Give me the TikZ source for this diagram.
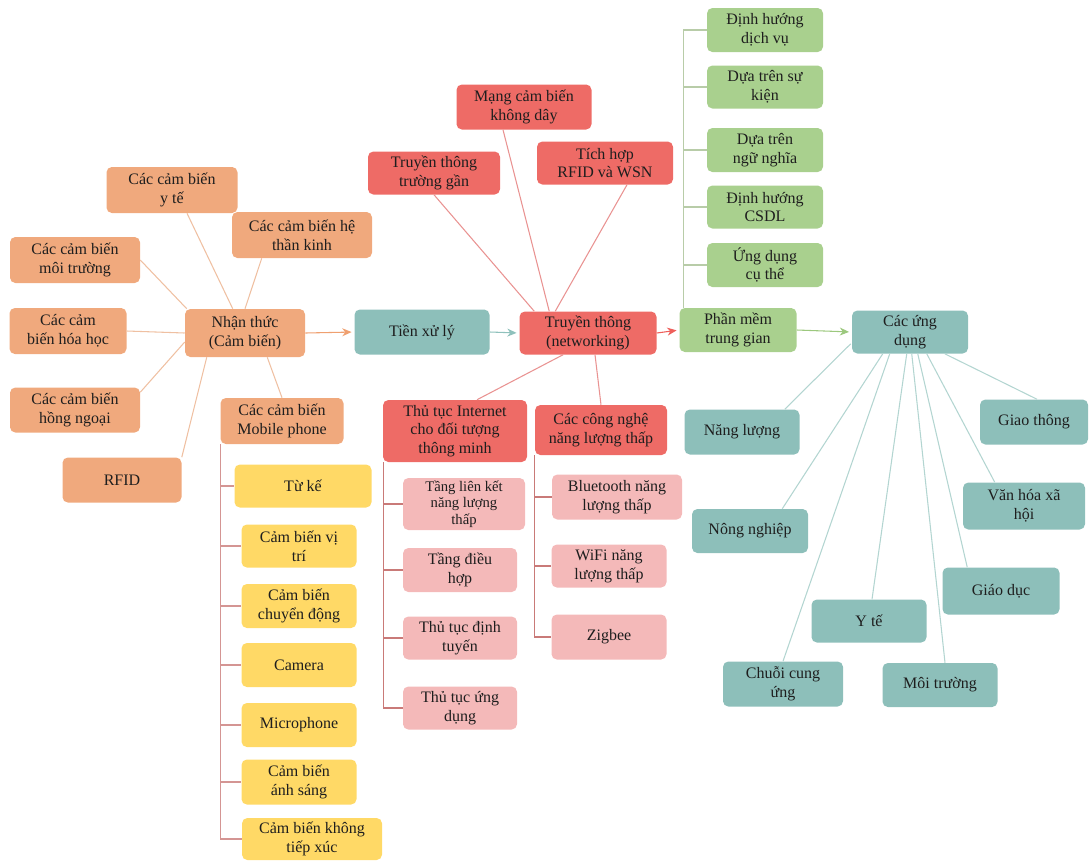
\documentclass[tikz,border=0pt]{standalone}
\usepackage{fontspec}
\setmainfont{Liberation Serif}
\usetikzlibrary{calc,arrows.meta}

\definecolor{orangefill}{HTML}{F0A97D}
\definecolor{yellowfill}{HTML}{FFD966}
\definecolor{redfill}{HTML}{EE6B66}
\definecolor{pinkfill}{HTML}{F4B9B9}
\definecolor{greenfill}{HTML}{A9D08E}
\definecolor{tealfill}{HTML}{8DBFBA}
\definecolor{orangeline}{HTML}{EFC0A2}
\definecolor{redline}{HTML}{E99392}
\definecolor{treered}{HTML}{C97A78}
\definecolor{tealline}{HTML}{B3D5D1}
\definecolor{greenline}{HTML}{B8CCA8}
\definecolor{orangearrow}{HTML}{EFA070}
\definecolor{tealarrow}{HTML}{8FC1BC}
\definecolor{redarrow}{HTML}{EE5F5B}
\definecolor{greenarrow}{HTML}{9CC87E}
\definecolor{inktext}{HTML}{1E1E1E}

\begin{document}
\begin{tikzpicture}[x=0.75pt,y=-0.75pt,
  box/.style={rectangle, rounded corners=4pt, align=center, inner sep=1pt,
    font=\fontsize{12}{14}\selectfont, text=inktext},
  bw/.style={minimum width=#1*0.75pt},
  bh/.style={minimum height=#1*0.75pt},
  sens/.style={box, fill=orangefill},
  mobi/.style={box, fill=yellowfill},
  net/.style={box, fill=redfill},
  proto/.style={box, fill=pinkfill},
  mid/.style={box, fill=greenfill},
  appl/.style={box, fill=tealfill},
  link/.style={line width=0.8pt},
  flow/.style={line width=0.8pt, -{Stealth[length=7pt,width=6pt]}, shorten >=2pt}
]
\useasboundingbox (0,0) rectangle (1091,861);

% ---------- perception (sensors) ----------
\node[sens, bw=131, bh=46] (yte)  at (172,190) {Các cảm biến\\y tế};
\node[sens, bw=140, bh=46] (than) at (302,235) {Các cảm biến hệ\\thần kinh};
\node[sens, bw=130, bh=46] (moi)  at (75,260)  {Các cảm biến\\môi trường};
\node[sens, bw=117, bh=46] (hoa)  at (68,331)  {Các cảm\\biến hóa học};
\node[sens, bw=120, bh=48] (nt)   at (245,333) {Nhận thức\\(Cảm biến)};
\node[sens, bw=130, bh=45] (hong) at (75,410)  {Các cảm biến\\hồng ngoại};
\node[sens, bw=119, bh=45] (rfid) at (122,480) {RFID};
\node[sens, bw=123, bh=46] (mob)  at (282,421) {Các cảm biến\\Mobile phone};

% mobile phone sensors
\node[mobi, bw=137, bh=43] (tuke) at (303,486) {Từ kế};
\node[mobi, bw=115, bh=43] (vitri) at (299,546) {Cảm biến vị\\trí};
\node[mobi, bw=115, bh=44] (cdong) at (299,606) {Cảm biến\\chuyển động};
\node[mobi, bw=115, bh=44] (cam) at (299,665) {Camera};
\node[mobi, bw=115, bh=44] (mic) at (299,725) {Microphone};
\node[mobi, bw=115, bh=45] (asang) at (299,782) {Cảm biến\\ánh sáng};
\node[mobi, bw=140, bh=42] (kxt) at (312,839) {Cảm biến không\\tiếp xúc};

% ---------- preprocessing ----------
\node[appl, bw=135, bh=45] (txl) at (422,332) {Tiền xử lý};

% ---------- networking ----------
\node[net, bw=135, bh=45] (mcb) at (524,107) {Mạng cảm biến\\không dây};
\node[net, bw=132, bh=43] (tg)  at (434,173) {Truyền thông\\trường gần};
\node[net, bw=136, bh=43] (th)  at (605,163) {Tích hợp\\RFID và WSN};
\node[net, bw=137, bh=43] (nw)  at (588,333) {Truyền thông\\(networking)};
\node[net, bw=144, bh=62] (ti)  at (455,431) {Thủ tục Internet\\cho đối tượng\\thông minh};
\node[net, bw=132, bh=50] (cn)  at (601,430) {Các công nghệ\\năng lượng thấp};

\node[proto, bw=122, bh=52, font=\fontsize{11}{12.5}\selectfont] (lk) at (464,504) {Tầng liên kết\\năng lượng\\thấp};
\node[proto, bw=114, bh=44] (dh) at (460,570) {Tầng điều\\hợp};
\node[proto, bw=114, bh=43] (dt) at (460,638) {Thủ tục định\\tuyến};
\node[proto, bw=114, bh=43] (ud) at (460,708) {Thủ tục ứng\\dụng};
\node[proto, bw=130, bh=45] (bt) at (617,497) {Bluetooth năng\\lượng thấp};
\node[proto, bw=115, bh=43] (wf) at (609,566) {WiFi năng\\lượng thấp};
\node[proto, bw=115, bh=45] (zb) at (609,637) {Zigbee};

% ---------- middleware ----------
\node[mid, bw=117, bh=44] (pm)   at (738,330) {Phần mềm\\trung gian};
\node[mid, bw=116, bh=44] (dv)   at (765,30)  {Định hướng\\dịch vụ};
\node[mid, bw=116, bh=43] (sk)   at (765,87)  {Dựa trên sự\\kiện};
\node[mid, bw=116, bh=44] (ngn)  at (765,150) {Dựa trên\\ngữ nghĩa};
\node[mid, bw=116, bh=43] (csdl) at (765,207) {Định hướng\\CSDL};
\node[mid, bw=116, bh=44] (cth)  at (765,265) {Ứng dụng\\cụ thể};

% ---------- applications ----------
\node[appl, bw=116, bh=43] (app) at (910,332)  {Các ứng\\dụng};
\node[appl, bw=115, bh=45] (nl)  at (742,432)  {Năng lượng};
\node[appl, bw=108, bh=45] (gt)  at (1034,422) {Giao thông};
\node[appl, bw=116, bh=44] (nng) at (750,531)  {Nông nghiệp};
\node[appl, bw=122, bh=47] (vh)  at (1024,506) {Văn hóa xã\\hội};
\node[appl, bw=117, bh=47] (gd)  at (1001,591) {Giáo dục};
\node[appl, bw=115, bh=43] (yt)  at (869,621)  {Y tế};
\node[appl, bw=120, bh=45] (ccu) at (783,684)  {Chuỗi cung\\ứng};
\node[appl, bw=115, bh=44] (mtr) at (940,685)  {Môi trường};

% ---------- main flow ----------
\draw[flow, orangearrow] (nt.east)  -- (txl.west);
\draw[flow, tealarrow]   (txl.east) -- (nw.west);
\draw[flow, redarrow]    (nw.east)  -- (pm.west);
\draw[flow, greenarrow]  (pm.east)  -- (app.west);

% ---------- sensor spokes ----------
\begin{scope}[link, orangeline]
\draw ($(yte.south)+(15,0)$) -- ($(nt.north west)+(48,0)$);
\draw ($(than.south west)+(30,0)$) -- (nt.north);
\draw (moi.east) -- ($(nt.north west)+(2,0)$);
\draw (hoa.east) -- (nt.west);
\draw ($(hong.north east)+(0,5)$) -- ($(nt.west)+(0,9)$);
\draw (rfid.north east) -- ($(nt.south west)+(22,0)$);
\draw (mob.north) -- ($(nt.south east)+(-38,0)$);
\end{scope}

% mobile phone tree
\begin{scope}[link, treered!80]
\foreach \c in {tuke,vitri,cdong,cam,mic,asang,kxt}
  \draw (mob.south west) |- (\c.west);
\end{scope}

% ---------- networking spokes ----------
\begin{scope}[link, redline]
\draw (tg.south) -- ($(nw.north west)+(15,0)$);
\draw ($(mcb.south)+(-21,0)$) -- ($(nw.north west)+(30,0)$);
\draw ($(th.south)+(22,0)$) -- ($(nw.north west)+(36,0)$);
\draw ($(nw.south)+(-25,0)$) -- ($(ti.north)+(22,0)$);
\draw ($(nw.south)+(7,0)$) -- (cn.north);
\end{scope}

\begin{scope}[link, treered]
\foreach \c in {lk,dh,dt,ud}
  \draw ($(ti.south west)+(1,0)$) |- (\c.west);
\foreach \c in {bt,wf,zb}
  \draw (cn.south west) |- (\c.west);
\end{scope}

% ---------- middleware tree ----------
\begin{scope}[link, greenline]
\foreach \c in {dv,sk,ngn,csdl,cth}
  \draw ($(pm.north west)+(4,0)$) |- (\c.west);
\end{scope}

% ---------- application spokes ----------
\begin{scope}[link, tealline]
\draw ($(app.south west)+(-1,-10)$) -- ($(nl.north east)+(-15,0)$);
\draw ($(app.south west)+(31,0)$) -- ($(nng.north east)+(-26,0)$);
\draw ($(app.south west)+(38,0)$) -- (ccu.north);
\draw ($(app.south west)+(55,0)$) -- ($(yt.north)+(3,0)$);
\draw ($(app.south west)+(60,0)$) -- ($(mtr.north)+(5,0)$);
\draw ($(app.south west)+(66,0)$) -- ($(gd.north west)+(25,0)$);
\draw ($(app.south west)+(75,0)$) -- ($(vh.north west)+(32,0)$);
\draw ($(app.south west)+(93,0)$) -- ($(gt.north)+(3,0)$);
\end{scope}
\end{tikzpicture}
\end{document}
